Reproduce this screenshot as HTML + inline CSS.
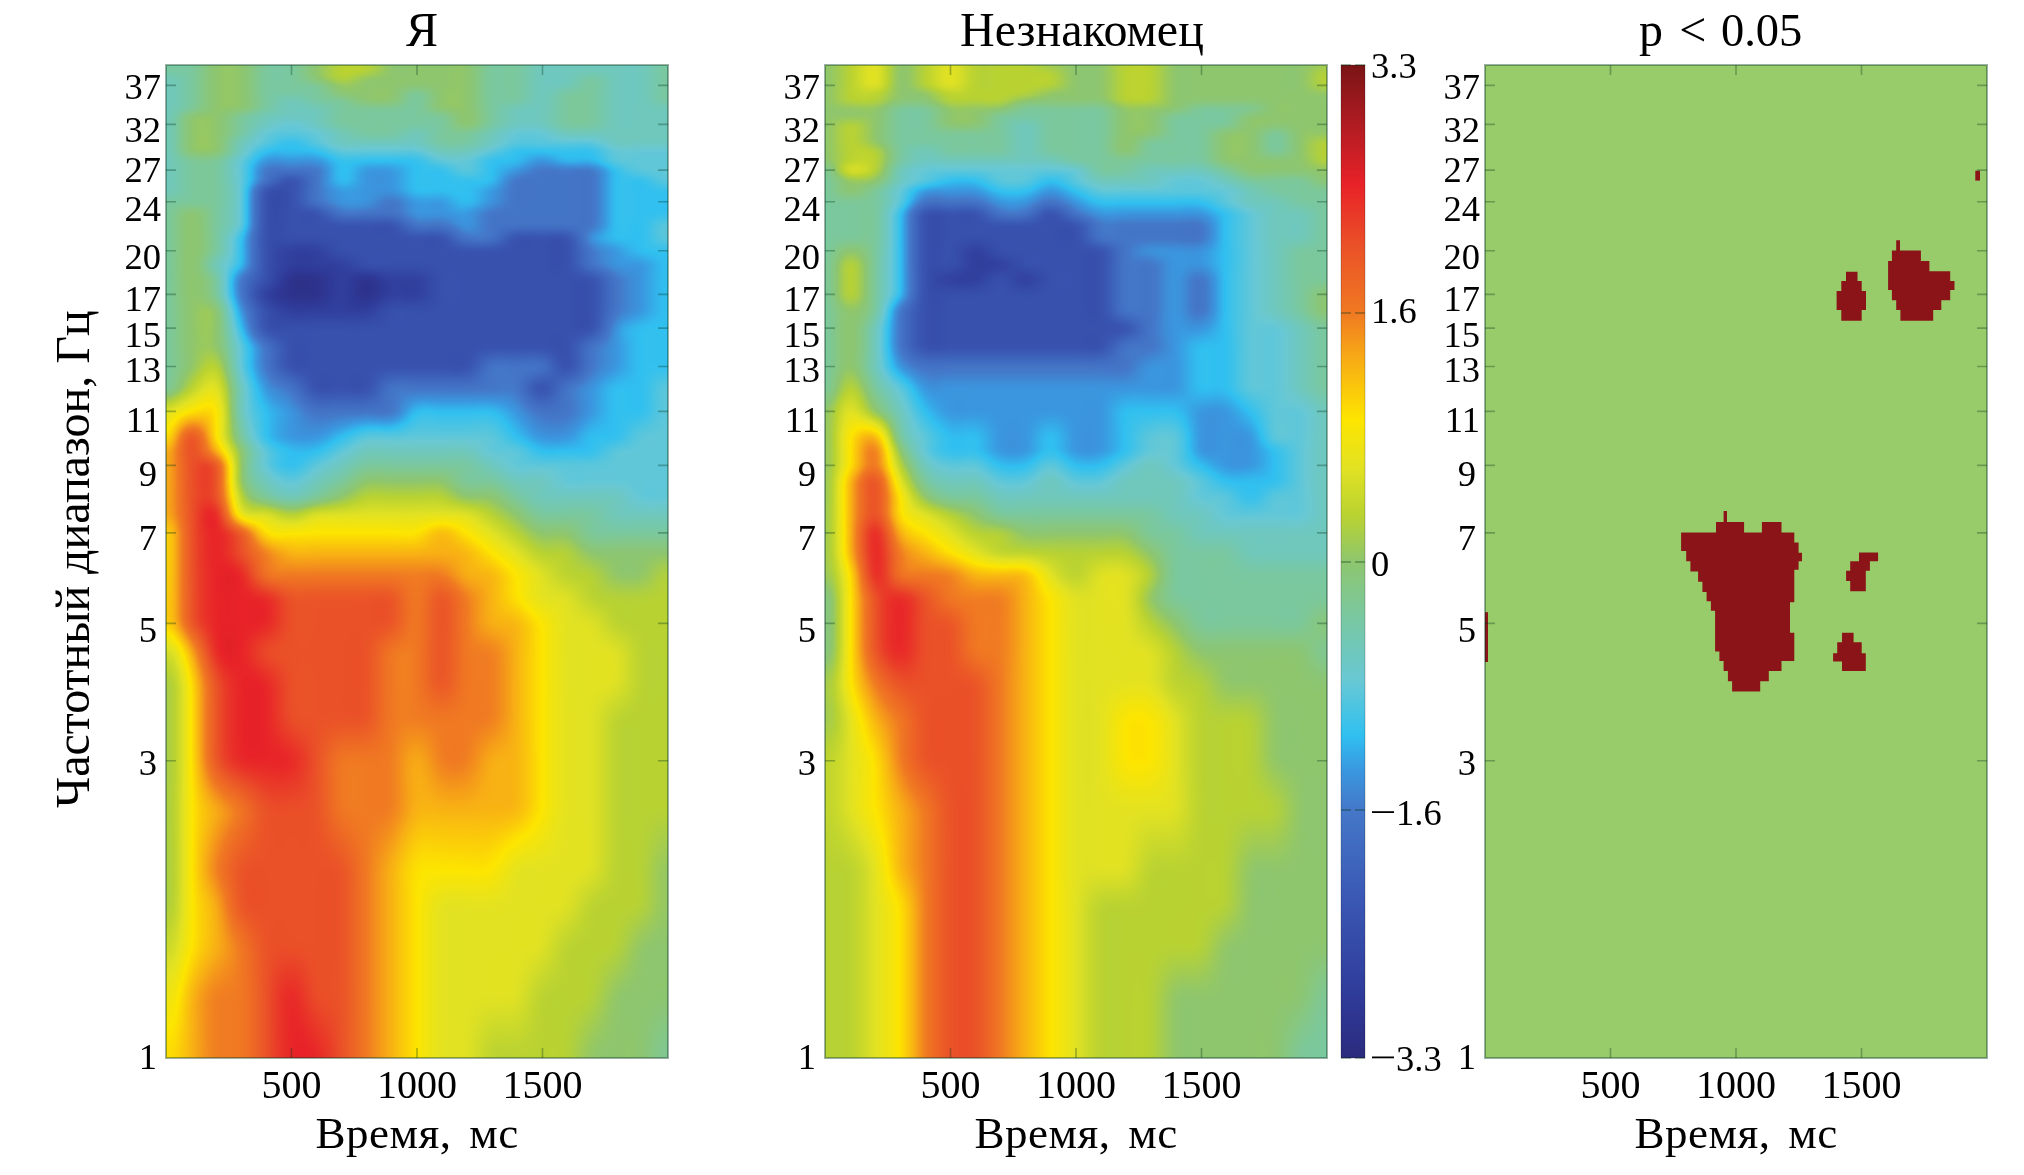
<!DOCTYPE html>
<html><head><meta charset="utf-8"><style>
html,body{margin:0;padding:0;background:#fff;width:2024px;height:1175px;overflow:hidden}
canvas{position:absolute}
</style></head><body>
<canvas id="c1" width="502" height="993" style="left:166px;top:65px"></canvas>
<canvas id="c2" width="502" height="993" style="left:825px;top:65px"></canvas>
<div style="position:absolute;left:1485px;top:65px;width:502px;height:993px;background:#98cc6a"></div>
<canvas id="cb" width="24" height="993" style="left:1341px;top:65px"></canvas>
<svg width="2024" height="1175" style="position:absolute;left:0;top:0" font-family="Liberation Serif" fill="#000"><polygon points="1723.6,511.1 1727.0,511.1 1727.0,522.1 1744.1,522.1 1744.1,532.4 1761.9,532.4 1761.9,522.1 1781.5,522.1 1781.5,532.4 1794.3,532.4 1794.3,542.6 1798.6,542.6 1798.6,552.8 1802.0,552.8 1802.0,561.3 1798.6,561.3 1798.6,569.8 1794.3,569.8 1794.3,602.2 1790.0,602.2 1790.0,632.8 1794.3,632.8 1794.3,660.9 1781.5,660.9 1781.5,671.1 1768.8,671.1 1768.8,681.3 1760.2,681.3 1760.2,691.6 1732.1,691.6 1732.1,681.3 1727.9,681.3 1727.9,671.1 1723.6,671.1 1723.6,660.9 1719.4,660.9 1719.4,651.5 1715.1,651.5 1715.1,610.7 1710.9,610.7 1710.9,601.3 1706.6,601.3 1706.6,591.9 1702.4,591.9 1702.4,581.7 1698.1,581.7 1698.1,571.5 1690.4,571.5 1690.4,561.3 1686.2,561.3 1686.2,551.1 1681.1,551.1 1681.1,532.4 1716.0,532.4 1716.0,522.1 1723.6,522.1" fill="#8a1418"/><polygon points="1859.0,552.5 1878.1,552.5 1878.1,561.3 1869.9,561.3 1869.9,570.8 1865.8,570.8 1865.8,591.3 1850.2,591.3 1850.2,581.1 1846.1,581.1 1846.1,570.8 1850.2,570.8 1850.2,561.3 1859.0,561.3" fill="#8a1418"/><polygon points="1842.0,632.8 1853.6,632.8 1853.6,642.3 1861.7,642.3 1861.7,653.2 1865.8,653.2 1865.8,670.9 1842.0,670.9 1842.0,661.4 1833.1,661.4 1833.1,653.2 1837.2,653.2 1837.2,642.3 1842.0,642.3" fill="#8a1418"/><polygon points="1846.0,271.7 1857.5,271.7 1857.5,281.1 1861.7,281.1 1861.7,290.9 1866.0,290.9 1866.0,310.0 1861.7,310.0 1861.7,320.7 1841.3,320.7 1841.3,310.0 1836.6,310.0 1836.6,290.9 1841.3,290.9 1841.3,281.1 1846.0,281.1" fill="#8a1418"/><polygon points="1896.2,240.2 1900.0,240.2 1900.0,250.4 1920.9,250.4 1920.9,261.1 1929.4,261.1 1929.4,271.3 1950.2,271.3 1950.2,281.1 1954.5,281.1 1954.5,290.0 1950.2,290.0 1950.2,300.2 1941.3,300.2 1941.3,310.0 1933.2,310.0 1933.2,320.7 1900.4,320.7 1900.4,310.0 1896.2,310.0 1896.2,300.2 1891.9,300.2 1891.9,290.0 1888.1,290.0 1888.1,261.1 1891.9,261.1 1891.9,250.4 1896.2,250.4" fill="#8a1418"/><polygon points="1485,612.2 1488,612.2 1488,662 1485,662" fill="#8a1418"/><polygon points="1975.3,170.7 1980,170.7 1980,180.6 1975.3,180.6" fill="#8a1418"/><text x="406" y="46" font-size="48">Я</text><text x="960" y="46" font-size="48">Незнакомец</text><text x="1639" y="46" font-size="48">p</text><text x="1679.3" y="46" font-size="48">&lt;</text><text x="1720.9" y="46" font-size="46.5">0.05</text><text transform="translate(88.7,808) rotate(-90)" font-size="48">Частотный диапазон, Гц</text><text x="157.0" y="1068.7" font-size="36.5" text-anchor="end">1</text><text x="157.0" y="775.0" font-size="36.5" text-anchor="end">3</text><text x="157.0" y="641.9" font-size="36.5" text-anchor="end">5</text><text x="157.0" y="550.4" font-size="36.5" text-anchor="end">7</text><text x="157.0" y="486.3" font-size="36.5" text-anchor="end">9</text><text x="161.0" y="432.1" font-size="36.5" text-anchor="end">11</text><text x="161.0" y="382.3" font-size="36.5" text-anchor="end">13</text><text x="161.0" y="346.5" font-size="36.5" text-anchor="end">15</text><text x="161.0" y="310.8" font-size="36.5" text-anchor="end">17</text><text x="161.0" y="268.7" font-size="36.5" text-anchor="end">20</text><text x="161.0" y="221.4" font-size="36.5" text-anchor="end">24</text><text x="161.0" y="181.9" font-size="36.5" text-anchor="end">27</text><text x="161.0" y="141.7" font-size="36.5" text-anchor="end">32</text><text x="161.0" y="98.8" font-size="36.5" text-anchor="end">37</text><text x="291.5" y="1098" font-size="40" text-anchor="middle">500</text><text x="417.0" y="1098" font-size="40" text-anchor="middle">1000</text><text x="542.5" y="1098" font-size="40" text-anchor="middle">1500</text><text x="315.5" y="1148" font-size="45" word-spacing="6" letter-spacing="0.5">Время, мс</text><path d="M166,760.7h10M668,760.7h-10M166,623.4h10M668,623.4h-10M166,532.9h10M668,532.9h-10M166,465.4h10M668,465.4h-10M166,411.4h10M668,411.4h-10M166,366.5h10M668,366.5h-10M166,328.1h10M668,328.1h-10M166,294.4h10M668,294.4h-10M166,250.7h10M668,250.7h-10M166,201.7h10M668,201.7h-10M166,170.1h10M668,170.1h-10M166,124.4h10M668,124.4h-10M166,85.4h10M668,85.4h-10M291.5,65v10M291.5,1058v-10M417.0,65v10M417.0,1058v-10M542.5,65v10M542.5,1058v-10" stroke="rgba(0,50,25,0.32)" stroke-width="1.6" fill="none"/><rect x="166" y="65" width="502" height="993" fill="none" stroke="rgba(0,50,25,0.38)" stroke-width="2"/><text x="816.0" y="1068.7" font-size="36.5" text-anchor="end">1</text><text x="816.0" y="775.0" font-size="36.5" text-anchor="end">3</text><text x="816.0" y="641.9" font-size="36.5" text-anchor="end">5</text><text x="816.0" y="550.4" font-size="36.5" text-anchor="end">7</text><text x="816.0" y="486.3" font-size="36.5" text-anchor="end">9</text><text x="820.0" y="432.1" font-size="36.5" text-anchor="end">11</text><text x="820.0" y="382.3" font-size="36.5" text-anchor="end">13</text><text x="820.0" y="346.5" font-size="36.5" text-anchor="end">15</text><text x="820.0" y="310.8" font-size="36.5" text-anchor="end">17</text><text x="820.0" y="268.7" font-size="36.5" text-anchor="end">20</text><text x="820.0" y="221.4" font-size="36.5" text-anchor="end">24</text><text x="820.0" y="181.9" font-size="36.5" text-anchor="end">27</text><text x="820.0" y="141.7" font-size="36.5" text-anchor="end">32</text><text x="820.0" y="98.8" font-size="36.5" text-anchor="end">37</text><text x="950.5" y="1098" font-size="40" text-anchor="middle">500</text><text x="1076.0" y="1098" font-size="40" text-anchor="middle">1000</text><text x="1201.5" y="1098" font-size="40" text-anchor="middle">1500</text><text x="974.5" y="1148" font-size="45" word-spacing="6" letter-spacing="0.5">Время, мс</text><path d="M825,760.7h10M1327,760.7h-10M825,623.4h10M1327,623.4h-10M825,532.9h10M1327,532.9h-10M825,465.4h10M1327,465.4h-10M825,411.4h10M1327,411.4h-10M825,366.5h10M1327,366.5h-10M825,328.1h10M1327,328.1h-10M825,294.4h10M1327,294.4h-10M825,250.7h10M1327,250.7h-10M825,201.7h10M1327,201.7h-10M825,170.1h10M1327,170.1h-10M825,124.4h10M1327,124.4h-10M825,85.4h10M1327,85.4h-10M950.5,65v10M950.5,1058v-10M1076.0,65v10M1076.0,1058v-10M1201.5,65v10M1201.5,1058v-10" stroke="rgba(0,50,25,0.32)" stroke-width="1.6" fill="none"/><rect x="825" y="65" width="502" height="993" fill="none" stroke="rgba(0,50,25,0.38)" stroke-width="2"/><text x="1476.0" y="1068.7" font-size="36.5" text-anchor="end">1</text><text x="1476.0" y="775.0" font-size="36.5" text-anchor="end">3</text><text x="1476.0" y="641.9" font-size="36.5" text-anchor="end">5</text><text x="1476.0" y="550.4" font-size="36.5" text-anchor="end">7</text><text x="1476.0" y="486.3" font-size="36.5" text-anchor="end">9</text><text x="1480.0" y="432.1" font-size="36.5" text-anchor="end">11</text><text x="1480.0" y="382.3" font-size="36.5" text-anchor="end">13</text><text x="1480.0" y="346.5" font-size="36.5" text-anchor="end">15</text><text x="1480.0" y="310.8" font-size="36.5" text-anchor="end">17</text><text x="1480.0" y="268.7" font-size="36.5" text-anchor="end">20</text><text x="1480.0" y="221.4" font-size="36.5" text-anchor="end">24</text><text x="1480.0" y="181.9" font-size="36.5" text-anchor="end">27</text><text x="1480.0" y="141.7" font-size="36.5" text-anchor="end">32</text><text x="1480.0" y="98.8" font-size="36.5" text-anchor="end">37</text><text x="1610.5" y="1098" font-size="40" text-anchor="middle">500</text><text x="1736.0" y="1098" font-size="40" text-anchor="middle">1000</text><text x="1861.5" y="1098" font-size="40" text-anchor="middle">1500</text><text x="1634.5" y="1148" font-size="45" word-spacing="6" letter-spacing="0.5">Время, мс</text><path d="M1485,760.7h10M1987,760.7h-10M1485,623.4h10M1987,623.4h-10M1485,532.9h10M1987,532.9h-10M1485,465.4h10M1987,465.4h-10M1485,411.4h10M1987,411.4h-10M1485,366.5h10M1987,366.5h-10M1485,328.1h10M1987,328.1h-10M1485,294.4h10M1987,294.4h-10M1485,250.7h10M1987,250.7h-10M1485,201.7h10M1987,201.7h-10M1485,170.1h10M1987,170.1h-10M1485,124.4h10M1987,124.4h-10M1485,85.4h10M1987,85.4h-10M1610.5,65v10M1610.5,1058v-10M1736.0,65v10M1736.0,1058v-10M1861.5,65v10M1861.5,1058v-10" stroke="rgba(0,50,25,0.32)" stroke-width="1.6" fill="none"/><rect x="1485" y="65" width="502" height="993" fill="none" stroke="rgba(0,50,25,0.38)" stroke-width="2"/><rect x="1341" y="65" width="24" height="993" fill="none" stroke="rgba(0,0,0,0.18)" stroke-width="1.2"/><text x="1371" y="78.3" font-size="36.5">3.3</text><path d="M1341,65h10M1355,65h10" stroke="rgba(0,50,20,0.3)" stroke-width="1.8"/><text x="1371" y="322.7" font-size="36.5">1.6</text><path d="M1341,313h10M1355,313h10" stroke="rgba(0,50,20,0.3)" stroke-width="1.8"/><text x="1371" y="575.5" font-size="36.5">0</text><path d="M1341,562h10M1355,562h10" stroke="rgba(0,50,20,0.3)" stroke-width="1.8"/><rect x="1372" y="811.2" width="22" height="1.8"/><text x="1396" y="825.2" font-size="36.5">1.6</text><path d="M1341,810h10M1355,810h10" stroke="rgba(0,50,20,0.3)" stroke-width="1.8"/><rect x="1372" y="1056.5" width="22" height="1.8"/><text x="1396" y="1070.5" font-size="36.5">3.3</text><path d="M1341,1058h10M1355,1058h10" stroke="rgba(0,50,20,0.3)" stroke-width="1.8"/></svg>
<script>
var BR=3;var BR2=7;

var CM=[[0,0x2b,0x2b,0x7e],[0.06,0x2f,0x3a,0x98],[0.16,0x3a,0x58,0xb4],[0.25,0x44,0x78,0xc8],[0.29,0x3a,0x98,0xe0],[0.325,0x30,0xc0,0xf0],[0.38,0x68,0xc8,0xd4],[0.44,0x78,0xc8,0xa4],[0.5,0x8e,0xc6,0x6e],[0.545,0xb8,0xd2,0x32],[0.595,0xe2,0xe2,0x22],[0.643,0xfd,0xe5,0x00],[0.70,0xf8,0xb0,0x14],[0.75,0xf0,0x7a,0x22],[0.82,0xea,0x50,0x28],[0.88,0xe8,0x22,0x28],[0.94,0xb0,0x1c,0x22],[1,0x7a,0x14,0x16]];
function cmap(v){var u=(v+3.3)/6.6;if(u<0)u=0;if(u>1)u=1;for(var i=1;i<CM.length;i++){if(u<=CM[i][0]){var a=CM[i-1],b=CM[i],t=(u-a[0])/(b[0]-a[0]);return [a[1]+(b[1]-a[1])*t,a[2]+(b[2]-a[2])*t,a[3]+(b[3]-a[3])*t];}}var e=CM[CM.length-1];return [e[1],e[2],e[3]];}
(function(){var c=document.getElementById('cb'),x=c.getContext('2d'),d=x.createImageData(24,993);for(var j=0;j<993;j++){var v=3.3-6.6*j/992,col=cmap(v);for(var i=0;i<24;i++){var k=(j*24+i)*4;d.data[k]=col[0];d.data[k+1]=col[1];d.data[k+2]=col[2];d.data[k+3]=255;}}x.putImageData(d,0,0);})();
var LV={'0':-3.1,'1':-2.8,'2':-2.4,'3':-1.7,'4':-1.4,'5':-1.15,'6':-0.85,'7':-0.6,'8':-0.35,'9':0,'a':0.3,'b':0.63,'c':0.95,'d':1.3,'e':1.65,'f':2.1,'g':2.5,'h':2.9};
function cr(p0,p1,p2,p3,t){return p1+0.5*t*(p2-p0+t*(2*p0-5*p1+4*p2-p3+t*(3*(p1-p2)+p3-p0)));}
function box1(A,T,n,s,st,r){for(var i=0;i<n;i++)T[i]=A[s+i*st];var pre=new Float32Array(n+1);for(var i=0;i<n;i++)pre[i+1]=pre[i]+T[i];for(var i=0;i<n;i++){var lo=Math.max(0,i-r),hi=Math.min(n,i+r+1);A[s+i*st]=(pre[hi]-pre[lo])/(hi-lo);}}
function blur(A,W,H,r){if(r<=0)return;var T=new Float32Array(Math.max(W,H));for(var p=0;p<3;p++){for(var y=0;y<H;y++)box1(A,T,W,y*W,1,r);for(var x=0;x<W;x++)box1(A,T,H,x,W,r);}}
function draw(id,G,dx){var c=document.getElementById(id),x=c.getContext('2d'),W=c.width,H=c.height,d=x.createImageData(W,H);
var R=G.length,C=G[0][1].length,V=[],FS=[];for(var j=0;j<R;j++){FS.push(G[j][0]);var row=[];for(var i=0;i<C;i++)row.push(LV[G[j][1][i]]);V.push(row);}
// precompute per column catmull-rom row-profiles: for each pixel column, value per grid row
var CV=[];for(var px=0;px<W;px++){var fx=px/dx,i=Math.floor(fx),tx=fx-i;var arr=new Float32Array(R);
 for(var j=0;j<R;j++){var r=V[j];function g(k){if(k<0)k=0;if(k>=C)k=C-1;return r[k];}arr[j]=cr(g(i-1),g(i),g(i+1),g(i+2),tx);} CV.push(arr);}
var F=new Float32Array(W*H);
for(var py=0;py<H;py++){var f=Math.exp((991-py)/268.8);var j=0;while(j<R-2&&FS[j+1]>=f)j++;var f0=FS[j],f1=FS[j+1];var t=(f0-f)/(f0-f1);if(t<0)t=0;if(t>1)t=1;
 for(var px=0;px<W;px++){F[py*W+px]=CV[px][j]*(1-t)+CV[px][j+1]*t;}}
var F2=new Float32Array(F);blur(F,W,H,BR);blur(F2,W,H,BR2);for(var py=0;py<H;py++){var w=Math.min(1,Math.max(0,(py-380)/250));for(var px=0;px<W;px++){var q=py*W+px;F[q]=F[q]*(1-w)+F2[q]*w;}}
for(var q=0;q<W*H;q++){var col=cmap(F[q]);d.data[q*4]=col[0];d.data[q*4+1]=col[1];d.data[q*4+2]=col[2];d.data[q*4+3]=255;}
x.putImageData(d,0,0);}

draw('c1',[[40.0, "8899889aa999988777778"], [39.0, "8899889aa999988777778"], [38.0, "7899889a9999988778778"], [37.0, "789988899999988778778"], [36.0, "789988899989988788778"], [35.0, "789987889989988788778"], [34.0, "789987788889987788777"], [33.0, "799877788888987788777"], [32.0, "799876788888987788777"], [31.0, "799866678878876677777"], [30.0, "799765677778876666777"], [29.0, "799755566667765555666"], [28.0, "788644455556655455666"], [27.0, "788633354455654333566"], [26.0, "788632354455553333556"], [25.0, "788622344455543333555"], [24.0, "888622344344543333555"], [23.0, "898622233344433333555"], [22.0, "898622222233433333556"], [21.0, "898522222222332224556"], [20.0, "898521122222222223455"], [19.0, "897521112222222223445"], [18.0, "898320010112222222345"], [17.0, "898310010112222222345"], [16.0, "899421111222222222345"], [15.0, "899522222222222222455"], [14.0, "899632222222222223455"], [13.0, "89a632222222233323455"], [12.0, "8ab743222333333234556"], [11.0, "bcc754333355554334556"], [10.0, "cfc854456666665445566"], [9.5, "dfd965567777766555666"], [9.0, "dff965678888876666666"], [8.5, "dff976789999887766666"], [8.0, "dffa8789aaaa998777766"], [7.5, "dfgbbabbbbbbba9888777"], [7.0, "cfgfcccccccdcba998888"], [6.5, "cfgfeddddddddcbaa9999"], [6.0, "cfggeeeeeeeeddcbaa99a"], [5.5, "cfgggfffffefedcbbaaaa"], [5.0, "cfgggfffffefeddcbbaaa"], [4.5, "adggfffffeefeedcbbbaa"], [4.0, "9cfggffffeefeedcbbbaa"], [3.5, "9cfggffffeeeeedcbbaaa"], [3.0, "9cfgggfeeedeeddcbbaaa"], [2.5, "9cdefffeeedddddcbbaaa"], [2.0, "9cefffffedccccbbbbaa9"], [1.75, "9cdfffffedcbbbbbbaaa9"], [1.5, "acdeffffedcbbbbbaaa99"], [1.25, "bdeefgffedcbbbbaaa999"], [1.0, "cdeefggfedcbbaaaa9998"]],25);
draw('c2',[[40.0, "9ab9abaaa999aa9999999"], [39.0, "9ab9abaaaa99aa999999a"], [38.0, "9ab9abaaaa99aa999999a"], [37.0, "9ab9abaaaa99aa999999a"], [36.0, "9aa99aaaa999aa9999999"], [35.0, "9aa99aaa9999aa9999999"], [34.0, "999889998888999888999"], [33.0, "999889988888998889999"], [32.0, "9a9889987888998889999"], [31.0, "9a9888887888998899899"], [30.0, "9a988888788898889989a"], [29.0, "9aa87888788898889989a"], [28.0, "9aa87777778888889999a"], [27.0, "8ba766666668877789999"], [26.0, "899765566567776678889"], [25.0, "898644455456666667888"], [24.0, "888633344345555567788"], [23.0, "888522233234444456778"], [22.0, "888522222223333356778"], [21.0, "888522222223333356778"], [20.0, "898522122222344456788"], [19.0, "8a8522112222334456788"], [18.0, "8a8521121222334356788"], [17.0, "8a8522222222334356789"], [16.0, "898322222222334356789"], [15.0, "897322222222234456678"], [14.0, "897322222222334556678"], [13.0, "897433333333344556678"], [12.0, "8a8644444444444556678"], [11.0, "9b9754444444555445667"], [10.0, "9cd865544544566444667"], [9.5, "9ce965544544566444567"], [9.0, "9cea76655655676544567"], [8.5, "9dfb87766766777655567"], [8.0, "9dfc98877777777665667"], [7.5, "9dfcba988888887766667"], [7.0, "9dgdcbaa9999988777777"], [6.5, "9dgedcbaaaaaa98887777"], [6.0, "9cgeeedddbabba8888888"], [5.5, "8cfgfeeedcbbb98888888"], [5.0, "8cfgffeedcbbba9888889"], [4.5, "8cfgffeedcbbbba999998"], [4.0, "9ceffffedcbbbbaa99999"], [3.5, "9bdefffedcbbccbaaa999"], [3.0, "abcefffedcbbccbaaa999"], [2.5, "abcdeffedcbbbbbaaaa99"], [2.0, "aabdeffedcbbbaaaa9999"], [1.75, "aabceffedcbaaaaaa9999"], [1.5, "aabceffedcbaaaaa99999"], [1.25, "aabceffedcbaaa9999998"], [1.0, "aabceffedcbaaa9999988"]],25);
</script>
</body></html>
